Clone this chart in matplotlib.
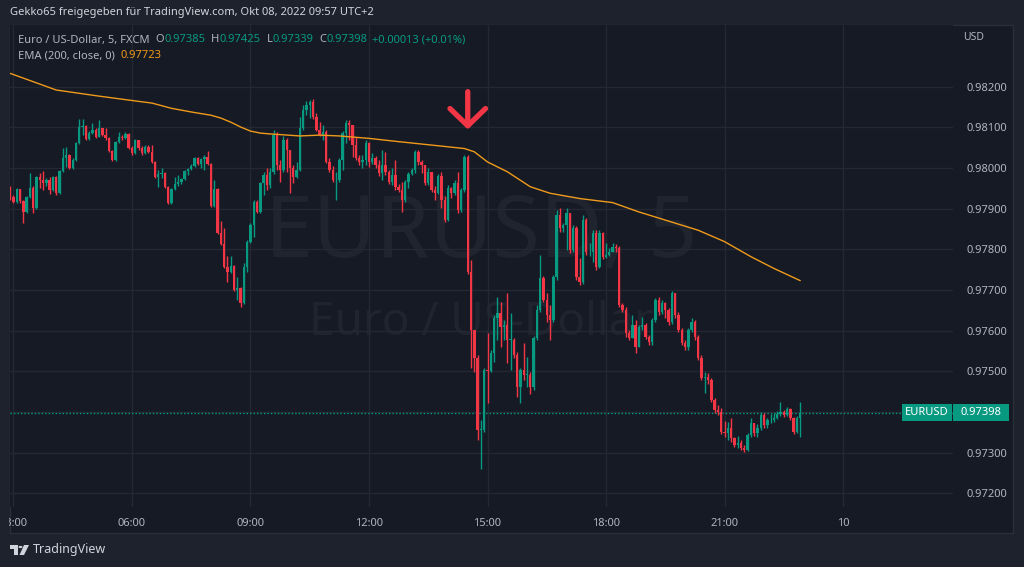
import matplotlib
matplotlib.use("Agg")
import matplotlib.pyplot as plt
from matplotlib.patches import Rectangle, Polygon, Circle
import numpy as np

plt.rcParams['font.family'] = ['Noto Sans', 'DejaVu Sans']

# EURUSD 5-minute candles, Fri 07 Oct 2022, 02:55 ... 22:55
# prices are stored in 1e-5 units (pipettes)
first_open = 97951
close_pts = [
    97929, 97916, 97948, 97919, 97892, 97929, 97951, 97902, 97978, 97970,
    97963, 97970, 97946, 97978, 97938, 97993, 98024, 98032, 98000, 98020,
    98061, 98101, 98103, 98071, 98086, 98093, 98076, 98098, 98081, 98074,
    98042, 98020, 98064, 98076, 98074, 98084, 98049, 98037, 98069, 98049,
    98037, 98051, 98039, 98015, 97978, 97985, 97988, 97953, 97914, 97948,
    97960, 97965, 97973, 97993, 97997, 98005, 98024, 98010, 98022, 98027,
    98010, 97906, 97948, 97840, 97813, 97756, 97744, 97759, 97700, 97705,
    97668, 97756, 97818, 97860, 97916, 97892, 97963, 97983, 97958, 97990,
    98081, 98007, 97995, 98069, 98044, 98000, 97978, 97995, 98098, 98143,
    98155, 98162, 98125, 98093, 98081, 98088, 98015, 97995, 97970, 97970,
    98020, 98086, 98111, 98106, 98056, 98024, 98015, 98020, 98061, 98015,
    98024, 98007, 97988, 98007, 97990, 97965, 97983, 97953, 97946, 97921,
    97965, 97985, 97995, 98039, 98015, 98007, 97963, 97990, 97946, 97938,
    97980, 97921, 97872, 97951, 97938, 97963, 97897, 97946, 98027, 97744,
    97602, 97533, 97356, 97356, 97503, 97501, 97545, 97631, 97643, 97609,
    97614, 97577, 97577, 97540, 97461, 97503, 97491, 97491, 97461, 97582,
    97651, 97729, 97675, 97638, 97626, 97732, 97884, 97852, 97860, 97889,
    97798, 97852, 97732, 97720, 97872, 97793, 97793, 97840, 97756, 97840,
    97781, 97786, 97793, 97806, 97803, 97663, 97651, 97594, 97582, 97614,
    97560, 97609, 97614, 97584, 97572, 97626, 97675, 97646, 97668, 97651,
    97621, 97692, 97638, 97602, 97570, 97560, 97602, 97621, 97584, 97533,
    97484, 97486, 97479, 97429, 97405, 97400, 97351, 97348, 97360, 97336,
    97319, 97324, 97311, 97306, 97343, 97373, 97348, 97360, 97392, 97368,
    97380, 97380, 97385, 97395, 97400, 97392, 97407, 97385, 97351, 97385,
    97398,
]
high_pts = [
    97956, 97933, 97951, 97946, 97921, 97931, 97988, 97956, 97980, 97988,
    97993, 97975, 97978, 97980, 97980, 97995, 98049, 98051, 98034, 98024,
    98064, 98120, 98120, 98106, 98091, 98111, 98098, 98118, 98098, 98098,
    98076, 98044, 98066, 98088, 98081, 98088, 98086, 98054, 98071, 98069,
    98054, 98056, 98056, 98056, 98017, 97995, 98000, 97990, 97956, 97951,
    97978, 97983, 97975, 97995, 98000, 98010, 98027, 98027, 98024, 98032,
    98042, 98012, 97970, 97951, 97870, 97852, 97784, 97784, 97761, 97732,
    97707, 97766, 97823, 97865, 97921, 97921, 97965, 97990, 98000, 98000,
    98093, 98088, 98020, 98079, 98074, 98044, 98007, 98015, 98125, 98155,
    98165, 98167, 98170, 98135, 98113, 98106, 98093, 98024, 98005, 97990,
    98024, 98091, 98118, 98118, 98106, 98076, 98032, 98032, 98069, 98064,
    98037, 98029, 98020, 98044, 98039, 97995, 98000, 98020, 97960, 97965,
    97970, 97990, 98000, 98044, 98044, 98020, 97995, 98000, 97990, 97956,
    97985, 97990, 97931, 97958, 97953, 97970, 97990, 97951, 98032, 98032,
    97774, 97602, 97540, 97380, 97508, 97594, 97552, 97638, 97683, 97670,
    97626, 97692, 97643, 97582, 97547, 97508, 97570, 97535, 97498, 97587,
    97663, 97786, 97734, 97692, 97663, 97737, 97897, 97902, 97865, 97902,
    97884, 97860, 97857, 97779, 97884, 97877, 97815, 97847, 97847, 97847,
    97842, 97815, 97803, 97815, 97813, 97808, 97668, 97658, 97602, 97638,
    97626, 97614, 97633, 97619, 97589, 97631, 97680, 97683, 97675, 97670,
    97656, 97697, 97688, 97646, 97606, 97577, 97606, 97631, 97626, 97589,
    97540, 97498, 97496, 97484, 97434, 97417, 97410, 97378, 97375, 97385,
    97338, 97341, 97331, 97319, 97348, 97385, 97373, 97370, 97400, 97397,
    97385, 97395, 97397, 97402, 97424, 97405, 97412, 97410, 97388, 97390,
    97425,
]
low_pts = [
    97921, 97914, 97914, 97914, 97865, 97889, 97926, 97889, 97899, 97951,
    97946, 97956, 97936, 97943, 97933, 97936, 97990, 98002, 97997, 97997,
    98017, 98059, 98081, 98069, 98069, 98084, 98074, 98076, 98079, 98069,
    98039, 98017, 98017, 98061, 98069, 98071, 98047, 98032, 98034, 98044,
    98032, 98034, 98037, 98012, 97975, 97953, 97975, 97951, 97911, 97911,
    97946, 97956, 97960, 97970, 97983, 97995, 98002, 98007, 98000, 97995,
    98007, 97904, 97904, 97838, 97810, 97754, 97720, 97742, 97697, 97675,
    97658, 97665, 97744, 97815, 97830, 97889, 97889, 97933, 97946, 97951,
    97985, 97995, 97965, 97990, 97990, 97938, 97963, 97975, 97993, 98093,
    98130, 98123, 98120, 98091, 98079, 98069, 98012, 97990, 97965, 97921,
    97965, 97995, 98061, 98069, 98027, 98020, 98007, 98000, 98007, 98002,
    98010, 98000, 97980, 97970, 97983, 97960, 97958, 97946, 97941, 97892,
    97916, 97951, 97983, 97988, 98007, 97988, 97958, 97958, 97941, 97921,
    97936, 97902, 97867, 97870, 97926, 97933, 97889, 97892, 97941, 97739,
    97508, 97498, 97331, 97260, 97351, 97422, 97498, 97523, 97577, 97560,
    97577, 97520, 97503, 97533, 97437, 97422, 97479, 97461, 97444, 97454,
    97577, 97646, 97670, 97621, 97577, 97621, 97724, 97842, 97842, 97798,
    97791, 97793, 97724, 97712, 97715, 97786, 97784, 97769, 97749, 97754,
    97776, 97779, 97784, 97793, 97793, 97658, 97646, 97584, 97577, 97582,
    97545, 97560, 97602, 97579, 97565, 97565, 97621, 97638, 97641, 97631,
    97614, 97616, 97631, 97597, 97565, 97552, 97552, 97597, 97577, 97528,
    97479, 97447, 97469, 97424, 97397, 97392, 97346, 97338, 97331, 97326,
    97314, 97311, 97306, 97301, 97304, 97338, 97341, 97338, 97356, 97360,
    97360, 97373, 97375, 97383, 97390, 97388, 97390, 97380, 97346, 97348,
    97339,
]

# EMA(200): candle index -> value
ema_idx = [0, 14, 27, 40, 43, 49, 55, 61, 64, 67, 70, 73, 76, 79, 88, 94,
           100, 109, 118, 131, 138, 141, 145, 151, 158, 164, 173, 183, 191,
           209, 217, 225, 232, 240]
ema_pts = [98233, 98192, 98177, 98163, 98160, 98147, 98138, 98130, 98123,
           98113, 98101, 98091, 98086, 98084, 98079, 98081, 98079, 98073,
           98065, 98054, 98048, 98040, 98015, 97991, 97954, 97938, 97925,
           97915, 97892, 97847, 97819, 97782, 97753, 97723]

time_labels = ['03:00', '06:00', '09:00', '12:00', '15:00', '18:00', '21:00', '10']
time_idx = [1, 37, 73, 109, 145, 181, 217, 253]
price_ticks = [0.972, 0.973, 0.974, 0.975, 0.976, 0.977, 0.978, 0.979, 0.980, 0.981, 0.982]

W, H = 1024, 567
BG_OUT = '#1e222d'
BG_PANE = '#161a25'
GRID = '#242833'
BORDER = '#2a2e39'
TXT = '#b2b5be'
UP = '#089981'
DOWN = '#f23645'
EMA_COL = '#ef9a1a'

c = np.array(close_pts) / 1e5
o = np.concatenate([[first_open], close_pts[:-1]]) / 1e5
hi = np.maximum(np.array(high_pts) / 1e5, np.maximum(o, c))
lo = np.minimum(np.array(low_pts) / 1e5, np.minimum(o, c))
x = np.arange(len(c))
ema = np.array(ema_pts) / 1e5


def fx(px):
    return px / W


def fy(py):
    return 1 - py / H


fig = plt.figure(figsize=(W / 100, H / 100), dpi=100, facecolor=BG_OUT)

# chart pane background incl. both scales
fig.add_artist(Rectangle((fx(9.5), fy(533)), fx(1013) - fx(9.5), fy(25) - fy(533),
                         transform=fig.transFigure, facecolor=BG_PANE,
                         edgecolor=BORDER, lw=1, zorder=-5))

ax = fig.add_axes([fx(9.5), fy(507), fx(953) - fx(9.5), fy(25) - fy(507)])
ax.set_facecolor(BG_PANE)
for s in ax.spines.values():
    s.set_visible(False)
ax.set_xlim(-0.2, 286.4)
ax.set_ylim(0.97166, 0.98352)

ax.set_xticks(time_idx)
ax.set_xticklabels(time_labels)
ax.set_yticks(price_ticks)
# the scale label closest to the last price is covered by the price tag
last = close_pts[-1] / 1e5
ax.set_yticklabels(['' if abs(p - last) < 0.0003 else '%.5f' % p for p in price_ticks])
ax.yaxis.tick_right()
ax.tick_params(axis='both', length=0, colors=TXT, labelsize=8)
ax.tick_params(axis='y', pad=10)
ax.tick_params(axis='x', pad=8)
ax.grid(color=GRID, lw=1)
ax.set_axisbelow(True)

# watermark
ax.text(0.5, 0.5187, 'EURUSD, 5', transform=ax.transAxes, ha='center', va='baseline',
        fontsize=62, color='#d1d4dc', alpha=0.055, zorder=0.5)
ax.text(0.5, 0.3568, 'Euro / US-Dollar', transform=ax.transAxes, ha='center', va='baseline',
        fontsize=33, color='#d1d4dc', alpha=0.055, zorder=0.5)

# candles
up = c >= o
cols = np.where(up, UP, DOWN)
ax.vlines(x, lo, hi, colors=cols, lw=1, zorder=2)
body = np.maximum(np.abs(c - o), 0.000012)
ax.bar(x, body, bottom=np.minimum(o, c), width=0.72, color=cols, lw=0, zorder=3)

ax.plot(ema_idx, ema, color=EMA_COL, lw=1.0, zorder=4, solid_capstyle='round')

# last price line
ax.axhline(c[-1], color=UP, lw=1, ls=(0, (1, 1.5)), zorder=1)

# arrow over the 14:30 candle
drop = int(np.argmin(c - o))
tip = hi[drop] + 0.00063
ax.annotate('', xy=(drop, tip), xytext=(drop, tip + 0.00093),
            arrowprops=dict(arrowstyle='->,head_length=0.62,head_width=0.64',
                            color=DOWN, lw=3.8, shrinkA=0, shrinkB=0,
                            mutation_scale=20, capstyle='round', joinstyle='round'),
            zorder=6)

# price label on the scale
fig.canvas.draw()
ypix = ax.transData.transform((0, c[-1]))[1]
yc = H - ypix
for x0, x1, s in [(902, 952, 'EURUSD'), (953, 1009, '%.5f' % c[-1])]:
    fig.add_artist(Rectangle((fx(x0), fy(yc + 8.5)), fx(x1) - fx(x0), 17 / H,
                             transform=fig.transFigure, facecolor=UP, lw=0, zorder=8))
    fig.text(fx((x0 + x1) / 2), fy(yc), s, color='white', fontsize=8, fontweight='bold',
             ha='center', va='center', zorder=9)

# hide the part of the first time label that falls left of the pane
fig.add_artist(Rectangle((0, 0), fx(9), 1, transform=fig.transFigure,
                         facecolor=BG_OUT, lw=0, zorder=7))

# header and legend
fig.text(fx(10), fy(12), 'Gekko65 freigegeben für TradingView.com, Okt 08, 2022 09:57 UTC+2',
         color='#d1d4dc', fontsize=8, va='center')
fig.text(fx(963), fy(38), 'USD', color=TXT, fontsize=7.5, va='center')

renderer = fig.canvas.get_renderer()


def run_text(x_px, y_px, parts):
    for s, col, gap in parts:
        t = fig.text(fx(x_px), fy(y_px), s, color=col, fontsize=8, va='center', zorder=9)
        x_px += t.get_window_extent(renderer).width + gap


run_text(18, 40, [('Euro / US-Dollar, 5, FXCM', TXT, 6),
                  ('O', TXT, 0), ('0.97385', UP, 6),
                  ('H', TXT, 0), ('0.97425', UP, 6),
                  ('L', TXT, 0), ('0.97339', UP, 6),
                  ('C', TXT, 0), ('0.97398', UP, 5),
                  ('+0.00013 (+0.01%)', UP, 0)])
run_text(18, 56, [('EMA (200, close, 0)', TXT, 6), ('%.5f' % ema[-1], EMA_COL, 0)])

# footer logo
fig.add_artist(Polygon([(fx(10), fy(545)), (fx(18), fy(545)), (fx(18), fy(555)),
                        (fx(14), fy(555)), (fx(14), fy(549)), (fx(10), fy(549))],
                       closed=True, transform=fig.transFigure, facecolor='#d1d4dc', lw=0))
fig.add_artist(Circle((fx(20.5), fy(547)), 2 / W, transform=fig.transFigure,
                      facecolor='#d1d4dc', lw=0))
fig.add_artist(Polygon([(fx(24), fy(545)), (fx(29), fy(545)), (fx(24), fy(555)), (fx(19.5), fy(555))],
                       closed=True, transform=fig.transFigure, facecolor='#d1d4dc', lw=0))
fig.text(fx(33), fy(550), 'TradingView', color='#d1d4dc', fontsize=9, va='center')

fig.savefig('out.png', dpi=100, facecolor=BG_OUT)
